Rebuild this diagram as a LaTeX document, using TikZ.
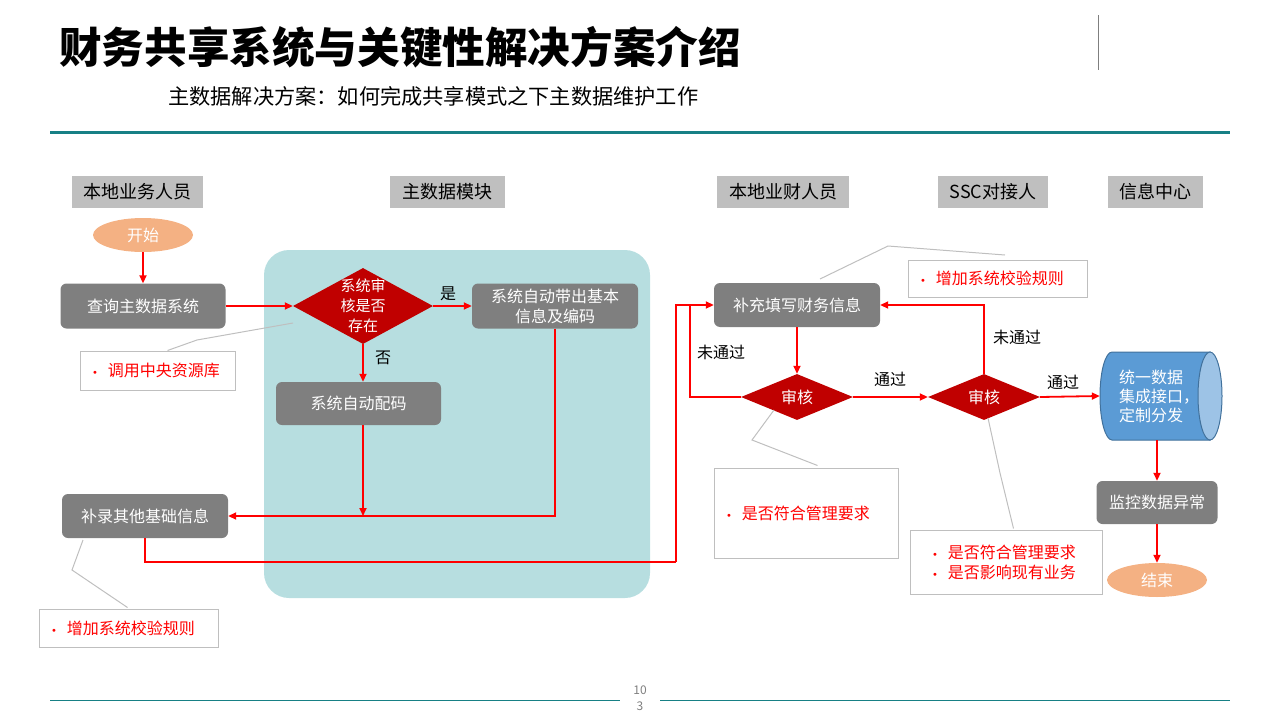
\documentclass[tikz,border=0pt]{standalone}
\usepackage{fontspec}
\setmainfont{Noto Sans CJK SC}
\newfontfamily\dejavu{DejaVu Sans}
\usetikzlibrary{arrows.meta,shapes.geometric,calc}
\definecolor{teal1}{RGB}{23,128,133}
\definecolor{regc}{RGB}{183,222,224}
\definecolor{boxgray}{RGB}{127,127,127}
\definecolor{hdr}{RGB}{191,191,191}
\definecolor{orng}{RGB}{244,177,131}
\definecolor{dred}{RGB}{192,0,0}
\definecolor{cylb}{RGB}{91,155,213}
\definecolor{cyle}{RGB}{157,195,230}
\definecolor{cylbd}{RGB}{65,113,156}
\definecolor{lgray}{RGB}{191,191,191}
\newcommand{\bul}{{\dejavu\fontsize{10}{10}\selectfont •}\hspace{10pt}}
\begin{document}
\begin{tikzpicture}[x=1pt,y=-1pt,
  fs/.style={font=\fontsize{16}{20}\selectfont},
  lane/.style={fill=hdr, minimum height=32pt, inner sep=0pt, font=\fontsize{18}{20}\selectfont},
  box/.style={fill=boxgray, rounded corners=6pt, text=white, inner sep=0pt, align=center, fs},
  oval/.style={ellipse, fill=orng, text=white, minimum width=100pt, minimum height=34pt, inner sep=0pt, fs},
  dia/.style={diamond, fill=dred, inner sep=0pt},
  wt/.style={text=white, align=center, inner sep=0pt},
  arr/.style={draw=red, line width=1.8pt, -{Triangle[length=8pt,width=7pt]}},
  rl/.style={draw=red, line width=1.8pt},
  gl/.style={draw=lgray, line width=1pt},
  cbox/.style={draw=lgray, line width=1pt, fill=white, text=red, align=left, inner xsep=12pt, inner ysep=0pt, fs},
  lbl/.style={inner sep=0pt, fs}]
\useasboundingbox (0,0) rectangle (1280,720);

% header
\node[anchor=west, inner sep=0pt, font=\fontsize{42.6}{46}\selectfont\bfseries] (title) at (59,47) {财务共享系统与关键性解决方案介绍};
\node[anchor=west, inner sep=0pt, font=\fontsize{21.2}{24}\selectfont] (sub) at (168,96) {主数据解决方案：如何完成共享模式之下主数据维护工作};
\draw[draw=boxgray, line width=0.8pt] (1098,15) -- (1098,70);
\draw[draw=teal1, line width=3pt] (50,132) -- (1230,132);

% footer
\draw[draw=teal1, line width=1pt] (50,700) -- (620,700);
\draw[draw=teal1, line width=1pt] (660,700) -- (1230,700);
\node[text=boxgray, inner sep=0pt, align=center, font=\fontsize{12}{16}\selectfont] (pg) at (640,698) {10\\3};

% lanes
\node[lane, minimum width=131pt] (h1) at (137.5,192) {本地业务人员};
\node[lane, minimum width=115pt] (h2) at (447.5,192) {主数据模块};
\node[lane, minimum width=132pt] (h3) at (783,192) {本地业财人员};
\node[lane, minimum width=110pt] (h4) at (993,192) {SSC对接人};
\node[lane, minimum width=95pt] (h5) at (1155.5,192) {信息中心};

% region
\node[fill=regc, rounded corners=25pt, minimum width=386pt, minimum height=348pt, inner sep=0pt] (reg) at (457,424) {};

% shapes
\node[oval] (start) at (143,235) {开始};
\node[box, minimum width=165pt, minimum height=45pt] (q) at (143,306) {查询主数据系统};
\node[dia, minimum width=140pt, minimum height=76pt] (d1) at (363,306) {};
\node[wt, font=\fontsize{15}{20}\selectfont] (d1t) at (d1) {系统审\\核是否\\存在};
\node[box, minimum width=166pt, minimum height=45pt] (auto1) at (555,306) {系统自动带出基本\\信息及编码};
\node[box, minimum width=165pt, minimum height=43pt] (auto2) at (358.5,403.5) {系统自动配码};
\node[box, minimum width=166pt, minimum height=44pt] (bl) at (145,516) {补录其他基础信息};
\node[box, minimum width=166pt, minimum height=44pt] (fi) at (797,305) {补充填写财务信息};
\node[dia, minimum width=112pt, minimum height=46pt] (a1) at (797,397) {};
\node[wt, fs] (a1t) at (a1) {审核};
\node[dia, minimum width=112pt, minimum height=46pt] (a2) at (984,397) {};
\node[wt, fs] (a2t) at (a2) {审核};
\node[inner sep=0pt, minimum width=114pt, minimum height=88pt] (cyl) at (1157,396) {};
\fill[cylb, draw=cylbd, line width=1pt] (1112,352) -- (1210,352) -- (1210,440) -- (1112,440)
  arc[start angle=90, end angle=270, x radius=12, y radius=44] -- cycle;
\draw[fill=cyle, draw=cylbd, line width=1pt] (1210,396) ellipse [x radius=12, y radius=44];
\node[wt, anchor=west, align=left, font=\fontsize{16}{19}\selectfont] (cylt) at (1119,396) {统一数据\\集成接口，\\定制分发};
\node[box, minimum width=121pt, minimum height=43pt] (mon) at (1157,502.5) {监控数据异常};
\node[oval] (fin) at (1157,580) {结束};

% connectors
\coordinate (j1) at (363,516);
\coordinate (c1) at (676,562);
\coordinate (c2) at (690,305);
\draw[arr] (start) -- (q);
\draw[arr] (q) -- (d1);
\draw[arr] (d1) -- (auto1);
\draw[arr] (d1.south) -- (d1.south |- auto2.north);
\draw[arr] (d1.south |- auto2.south) -- (j1);
\draw[arr] (auto1.south) |- (bl.east);
\draw[rl] (bl.south) |- (c1);
\draw[arr] (c1) |- (fi.west);
\draw[arr] (fi) -- (a1);
\draw[rl] (a1.west) -| (c2);
\draw[arr] (a1) -- (a2);
\draw[arr] (a2.north) |- (fi.east);
\draw[arr] (a2.east) -- (cyl.west);
\draw[arr] (cyl.south) -- (mon.north);
\draw[arr] (mon.south) -- (fin.north);

% labels
\node[lbl] (lyes) at (448,294) {是};
\node[lbl] (lno) at (383,358) {否};
\node[lbl] (lf1) at (721,352) {未通过};
\node[lbl] (lp1) at (890,379) {通过};
\node[lbl] (lf2) at (1017,337) {未通过};
\node[lbl] (lp2) at (1063,382) {通过};

% callouts
\node[cbox, text width=131pt, minimum height=39pt] (cb1) at (157.5,370.5) {\bul 调用中央资源库};
\node[cbox, text width=155pt, minimum height=37pt] (cb2) at (997.5,278.5) {\bul 增加系统校验规则};
\node[cbox, text width=160pt, minimum height=90pt] (cb3) at (806,513) {\bul 是否符合管理要求};
\node[cbox, inner xsep=22pt, text width=148pt, minimum height=64pt] (cb4) at (1006,562) {\bul 是否符合管理要求\\\bul 是否影响现有业务};
\node[cbox, text width=155pt, minimum height=38pt] (cb5) at (128.5,628) {\bul 增加系统校验规则};

\coordinate (k1) at (197,340); \coordinate (p1) at (293,323);
\draw[gl] ($(cb1.north west)+(88,0)$) -- (k1) -- (p1);
\coordinate (k2a) at (820,279); \coordinate (k2) at (888,246); \coordinate (p2) at (1005,255);
\draw[gl] (k2a) -- (k2) -- (p2);
\coordinate (k3a) at (774,410); \coordinate (k3) at (752,440);
\draw[gl] (k3a) -- (k3) -- ($(cb3.north west)+(104,-2)$);
\coordinate (k4a) at (988,418); \coordinate (k4) at (1000,473);
\draw[gl] (k4a) -- (k4) -- ($(cb4.north west)+(104,-1)$);
\coordinate (k5a) at (83,540); \coordinate (k5) at (72,570);
\draw[gl] (k5a) -- (k5) -- ($(cb5.north west)+(89,-1)$);
\end{tikzpicture}
\end{document}
